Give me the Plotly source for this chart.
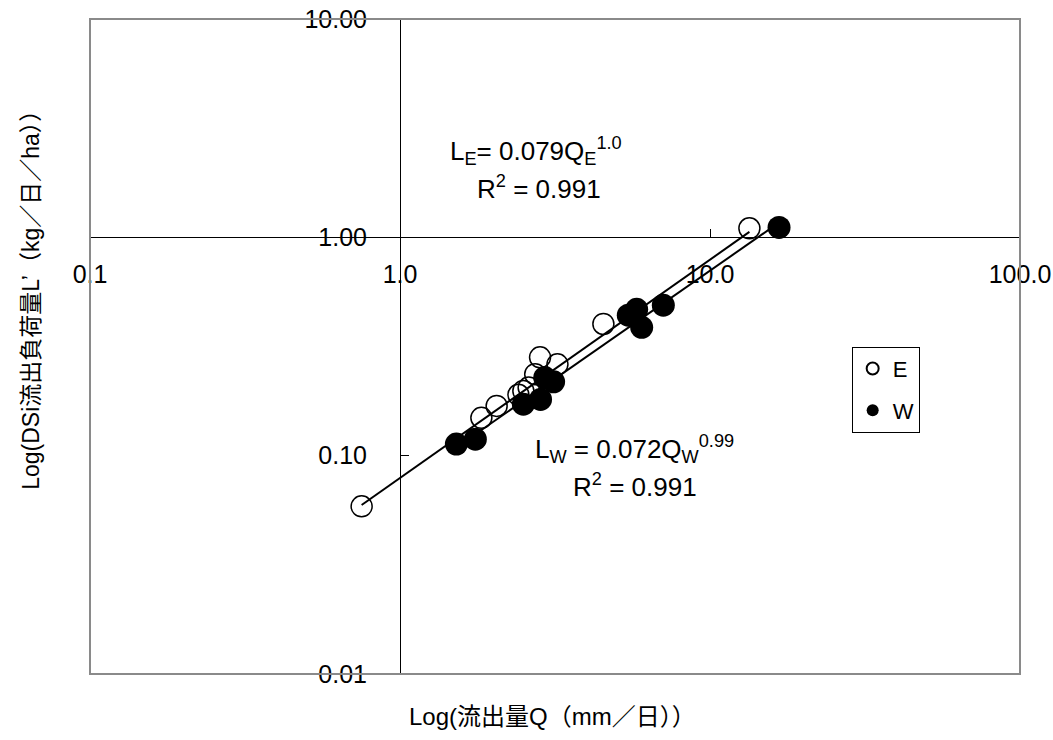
import numpy as np
import plotly.graph_objects as go

# Discharge Q (mm/day) and DSi load L' (kg/day/ha) for the two catchments
q_e = [0.752, 1.83, 2.05, 2.41, 2.50, 2.60, 2.73, 2.83, 3.22, 4.53, 13.4]
l_e = [0.0586, 0.149, 0.169, 0.190, 0.198, 0.205, 0.236, 0.282, 0.262, 0.401, 1.10]

q_w = [1.52, 1.75, 2.50, 2.84, 2.93, 3.13, 5.45, 5.80, 6.02, 7.07, 16.7]
l_w = [0.113, 0.119, 0.172, 0.181, 0.228, 0.218, 0.440, 0.468, 0.387, 0.489, 1.11]

# Power-law fits L = a * Q^b
fit_e = {"a": 0.079, "b": 1.0, "r2": 0.991}
fit_w = {"a": 0.072, "b": 0.99, "r2": 0.991}

x_ticks = [0.1, 1, 10, 100]
x_ticktext = ["0.1", "1.0", "10.0", "100.0"]
y_ticks = [0.01, 0.1, 1, 10]
y_ticktext = ["0.01", "0.10", "1.00", "10.00"]

FONT = "Liberation Sans, Arial, Noto Sans CJK JP, sans-serif"


def fit_line(q, fit):
    qq = np.logspace(np.log10(min(q)), np.log10(max(q)), 50)
    return qq, fit["a"] * qq ** fit["b"]


fig = go.Figure()

fig.add_trace(go.Scatter(
    x=q_e, y=l_e, mode="markers", name="E", legendgroup="E",
    marker=dict(symbol="circle-open", size=21, color="black",
                line=dict(width=1.5, color="black")),
))

for q, fit in ((q_e, fit_e), (q_w, fit_w)):
    qx, ly = fit_line(q, fit)
    fig.add_trace(go.Scatter(
        x=qx, y=ly, mode="lines", showlegend=False, hoverinfo="skip",
        line=dict(color="black", width=2),
    ))

fig.add_trace(go.Scatter(
    x=q_w, y=l_w, mode="markers", name="W", legendgroup="W",
    marker=dict(symbol="circle", size=23, color="black",
                line=dict(width=0)),
))

fig.update_xaxes(
    type="log", range=[-1, 2], domain=[0, 1],
    anchor="free", position=2 / 3, automargin=False,
    tickvals=x_ticks, ticktext=x_ticktext,
    ticks="inside", ticklen=8, tickcolor="black", tickwidth=1,
    ticklabelstandoff=15,
    showline=True, linecolor="black", linewidth=1,
    showgrid=False, zeroline=False,
    tickfont=dict(family=FONT, size=25, color="black"),
)
fig.update_yaxes(
    type="log", range=[-2, 1], domain=[0, 1],
    anchor="free", position=1 / 3, automargin=False,
    tickvals=y_ticks, ticktext=y_ticktext,
    ticks="inside", ticklen=8, tickcolor="black", tickwidth=1,
    ticklabelstandoff=28,
    showline=True, linecolor="black", linewidth=1,
    showgrid=False, zeroline=False,
    tickfont=dict(family=FONT, size=25, color="black"),
)

# Plot-area frame
fig.add_shape(type="rect", xref="paper", yref="paper", x0=0, y0=0, x1=1, y1=1,
              line=dict(color="#8a8a8a", width=2), layer="above")

eq_font = dict(family=FONT, size=26, color="black")
annots = [
    (0.4796, 0.799, "L<sub>E</sub>= %.3fQ<sub>E</sub><sup>%.1f</sup>" % (fit_e["a"], fit_e["b"])),
    (0.4828, 0.743, "R<sup>2</sup> = %.3f" % fit_e["r2"]),
    (0.5860, 0.344, "L<sub>W</sub> = %.3fQ<sub>W</sub><sup>%.2f</sup>" % (fit_w["a"], fit_w["b"])),
    (0.5860, 0.288, "R<sup>2</sup> = %.3f" % fit_w["r2"]),
]
for x, y, t in annots:
    fig.add_annotation(x=x, y=y, xref="paper", yref="paper", text=t,
                       showarrow=False, font=eq_font,
                       xanchor="center", yanchor="middle")

# Axis titles
fig.add_annotation(x=0.497, y=-0.0642, xref="paper", yref="paper",
                   text="Log(流出量Q（mm／日））", showarrow=False,
                   font=dict(family=FONT, size=24, color="black"),
                   xanchor="center", yanchor="middle")
fig.add_annotation(x=-0.0634, y=0.579, xref="paper", yref="paper",
                   text="Log(DSi流出負荷量L’（kg／日／ha））", showarrow=False,
                   textangle=-90,
                   font=dict(family=FONT, size=23, color="black"),
                   xanchor="center", yanchor="middle")

fig.update_layout(
    width=1053, height=740,
    margin=dict(l=90, r=33, t=19, b=66),
    paper_bgcolor="white", plot_bgcolor="white",
    showlegend=True,
    legend=dict(
        x=0.819, y=0.4996, xanchor="left", yanchor="top",
        bordercolor="black", borderwidth=1, bgcolor="white",
        font=dict(family=FONT, size=22, color="black"),
        itemsizing="constant", itemwidth=30,
        traceorder="grouped", tracegroupgap=10,
    ),
)

fig.write_html("out.html")
